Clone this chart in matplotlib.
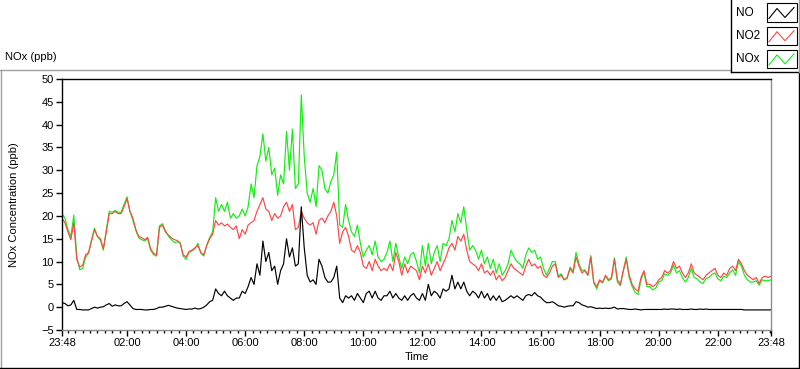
import numpy as np
import matplotlib.pyplot as plt
from matplotlib.lines import Line2D
from matplotlib.patches import Rectangle

plt.rcParams['font.family'] = ['Liberation Sans', 'DejaVu Sans']
plt.rcParams['font.size'] = 8

# readings every 6 minutes from 23:48 (one row = one hour)
no2 = [
    19.5, 18.5, 16.5, 14.8, 18.5, 10.5, 8.8, 9.2, 11.5, 12.0,
    14.5, 17, 15.5, 15, 12.8, 16.5, 20.5, 20.5, 21, 20.5,
    20.5, 22, 23.8, 21, 19.5, 17, 15.5, 15.2, 14.8, 15.3,
    12.8, 11.8, 11.5, 17.5, 18, 16.5, 15.8, 15.2, 14.8, 14.6,
    14, 11.5, 11, 12.2, 12.5, 13, 13.5, 12, 11.5, 13.5,
    15, 16, 19, 18, 18.5, 17.8, 18.2, 17.5, 17, 17.8,
    15, 17, 16, 18, 18.5, 19, 21, 22.5, 24, 21.5,
    21, 19, 20.5, 19.5, 20, 22, 23, 21, 22.5, 17,
    17.5, 21, 19.5, 18.5, 18, 18.5, 16, 19, 19.5, 18.5,
    20, 21, 23, 20, 14, 16.5, 17.5, 15.5, 12.5, 12,
    13.5, 12, 9, 8.5, 10, 8, 10.5, 9, 8, 8.5,
    8, 9.5, 8, 12, 10, 7, 9.5, 7.5, 9, 8.5,
    8, 6, 9, 7.5, 9.5, 7, 8.5, 10, 8, 9.5,
    11, 13, 14, 12.5, 15.5, 14.5, 16, 12.5, 10, 9.5,
    9, 8, 9.5, 7.5, 8, 7, 8, 6, 7, 5.8,
    6.5, 8, 9.5, 8.5, 8, 7.5, 7, 9, 10.5, 9,
    9.5, 8.5, 9, 7, 6.5, 7.5, 9, 9.5, 6.5, 7,
    6, 6.5, 8.5, 7.5, 11, 9, 7.5, 8, 7, 11,
    5.5, 4.5, 6, 5.5, 7, 6, 6.5, 10.5, 6, 5,
    8, 10.5, 7, 5, 4, 3.5, 6.5, 8, 5, 5,
    4.5, 5, 6, 6.5, 8, 7.5, 8, 10, 8.5, 9,
    7.5, 6.5, 7.5, 9.5, 7.5, 7, 6.5, 6, 7, 7.5,
    8, 8.5, 7, 6.5, 7.5, 7, 8.5, 9, 8, 10.5,
    9.5, 8, 7, 6.5, 6, 6.5, 5.2, 6.5, 6.8, 6.5,
    6.8,
]
nox = [
    20.5, 19.5, 17, 15.5, 20.2, 11, 8.2, 8.5, 11, 11.8,
    14.8, 17.3, 15.5, 14.7, 12.5, 17, 21, 20.8, 21.2, 20.8,
    20.8, 22.5, 24.2, 21, 19, 16.8, 15.2, 14.8, 14.5, 15,
    12.5, 11.5, 11.2, 17.8, 18.3, 16.8, 15.6, 14.8, 14.2, 14.3,
    14.2, 11.2, 10.5, 12, 12.3, 12.8, 14, 11.8, 11.2, 13.6,
    15.3, 16.5, 24, 21, 22.5, 21, 23, 19.5, 20.5, 19.5,
    20, 21.5, 20, 22, 27, 24, 31, 33, 38, 32,
    35, 29, 30.5, 24.5, 29, 27, 38.5, 30, 39, 26,
    27, 46.5, 33, 25, 23, 26, 22, 31, 30, 26,
    25, 27.5, 29, 34, 18, 17.5, 22.5, 19, 16.5, 15.5,
    18, 14, 11, 12.5, 13.5, 11.5, 14.5, 11, 10, 10.5,
    12, 14.5, 10, 14, 11, 8.5, 11, 9.5, 11.5, 12,
    10, 7.5, 13.5, 9, 14, 9.5, 12, 13.5, 10, 14,
    13.5, 15, 19, 16.5, 20.5, 18.5, 22, 17, 12.5, 13.5,
    12.5, 10.5, 12.5, 9.5, 11, 8.5, 10.5, 7.5, 9.5, 7,
    8, 9.5, 12.5, 11, 10, 9.5, 8.5, 11.5, 13, 12,
    12.5, 10.5, 11, 8.5, 7, 8.5, 10, 10, 6.8, 7.3,
    6, 6.3, 8.8, 7.8, 12, 9.5, 8, 8.2, 7, 11.3,
    5.3, 4, 5.8, 5.3, 6.8, 5.8, 6.2, 10.8, 5.5, 4.7,
    7.8, 11, 6.5, 4.5, 3.2, 2.8, 6, 7.8, 4.5, 4.5,
    3.8, 4.2, 5.5, 5.8, 7.3, 7, 7.5, 9.2, 7.5, 8,
    6.5, 5.5, 6.5, 8.5, 6.5, 6.2, 5.5, 5.2, 6.3, 6.5,
    7.2, 7.5, 6.2, 5.8, 6.8, 6.5, 7.5, 8.2, 7, 10,
    9, 7, 6, 5.5, 5.5, 5.8, 4.8, 6, 5.8, 5.8,
    6,
]
no = [
    1.0, 0.8, 0.3, 0.5, 1.5, -0.5, -0.5, -0.6, -0.6, -0.6,
    -0.3, 0, -0.2, 0, 0.1, 0.5, 0.8, 0.2, 0.5, 0.3,
    0.3, 0.8, 1.2, 0.5, -0.3, -0.5, -0.5, -0.5, -0.6, -0.6,
    -0.5, -0.5, -0.3, 0, 0, 0.2, 0.4, 0.2, 0, -0.2,
    -0.3, -0.4, -0.5, -0.4, -0.4, -0.2, -0.4, -0.3, 0, 0.5,
    1.2, 1.5, 4, 3, 2.5, 3.5, 2.5, 2, 1.5, 2,
    2, 3.5, 3, 4.5, 6.5, 5, 9.5, 7, 14.5, 10,
    12, 8, 9, 5, 8, 9.5, 15, 11, 13, 9,
    9.5, 22, 13, 7, 5.5, 6, 5, 10.5, 9, 6.5,
    5.5, 5.5, 6.5, 9, 2, 1, 2.5, 2, 2.5, 1.5,
    3, 2, 1, 3, 3.5, 2, 3.5, 2, 1.5, 2.5,
    2.5, 3.5, 2, 3, 2, 1.5, 2.5, 1.5, 2.5, 3,
    2, 1.5, 3, 1.5, 5, 2.5, 3.5, 3, 2, 4,
    3.5, 4, 7, 4, 5.5, 4, 5.5, 3.5, 2.5, 3.5,
    3, 2, 3.5, 2, 3, 1.5, 2.5, 1.5, 2.5, 1.2,
    1.5, 2, 2.5, 2, 2.5, 2, 1.5, 2.5, 2.8, 2.5,
    3.2, 2.5, 2.2, 1.5, 1, 1, 1.2, 0.8, 0.3, 0.2,
    0, 0.2, 0.3, 0.3, 1.2, 1, 0.5, 0.3, 0, 0.1,
    -0.1, -0.3, -0.2, -0.3, -0.2, -0.3, -0.2, 0, -0.4, -0.3,
    -0.3, -0.4, -0.5, -0.5, -0.4, -0.5, -0.6, -0.5, -0.5, -0.5,
    -0.5, -0.5, -0.5, -0.5, -0.4, -0.5, -0.4, -0.4, -0.5, -0.4,
    -0.5, -0.5, -0.5, -0.4, -0.5, -0.5, -0.4, -0.5, -0.4, -0.5,
    -0.5, -0.5, -0.5, -0.5, -0.5, -0.5, -0.5, -0.5, -0.5, -0.5,
    -0.5, -0.6, -0.6, -0.6, -0.6, -0.6, -0.6, -0.6, -0.6, -0.6,
    -0.6,
]
hours = np.arange(len(no)) * 0.1  # hours since 23:48

tick_pos = [0, 2.2, 4.2, 6.2, 8.2, 10.2, 12.2, 14.2, 16.2, 18.2, 20.2, 22.2, 24]
tick_lab = ['23:48', '02:00', '04:00', '06:00', '08:00', '10:00', '12:00',
            '14:00', '16:00', '18:00', '20:00', '22:00', '23:48']

W, H = 800, 369
fig = plt.figure(figsize=(W / 100, H / 100), dpi=100)


def fx(x):
    return x / W


def fy(y):
    return 1 - y / H


ax = fig.add_axes([fx(62), fy(330), fx(771) - fx(62), fy(79) - fy(330)])
ax.plot(hours, nox, color='#11ee11', lw=0.85)
ax.plot(hours, no2, color='#ff4646', lw=0.85)
ax.plot(hours, no, color='black', lw=0.85)

ax.set_xlim(0, 24)
ax.set_ylim(-5, 50)
ax.set_yticks(np.arange(-5, 51, 5))
ax.set_xticks(tick_pos)
ax.set_xticklabels(tick_lab)
minor = [m for m in np.arange(0.2, 24, 0.25) if min(abs(m - t) for t in tick_pos) > 0.01]
ax.set_xticks(minor, minor=True)
ax.tick_params(axis='both', which='major', direction='out', length=4, width=1, pad=2, labelsize=8)
ax.tick_params(axis='x', which='minor', direction='out', length=2.5, width=1)
ax.spines['left'].set_color('black')
ax.spines['top'].set_color('black')
ax.spines['right'].set_color('#8c8c8c')
ax.spines['bottom'].set_color('#8c8c8c')
for s in ax.spines.values():
    s.set_linewidth(1)

ax.set_xlabel('Time', fontsize=8, labelpad=3)
fig.text(fx(14), fy(205), 'NOx Concentration (ppb)', rotation=90, ha='center', va='center', fontsize=8)
fig.text(fx(5), fy(57), 'NOx (ppb)', ha='left', va='center', fontsize=8)

# outer chart frame
fig.add_artist(Line2D([fx(0), fx(730)], [fy(69.5)] * 2, color='#a0a0a0', lw=1))
fig.add_artist(Line2D([fx(1)] * 2, [fy(69.5), fy(368)], color='#a0a0a0', lw=1))
fig.add_artist(Line2D([fx(0), fx(800)], [fy(367.5)] * 2, color='black', lw=1))
fig.add_artist(Line2D([fx(799)] * 2, [fy(72), fy(368)], color='black', lw=1))

# legend panel
fig.add_artist(Line2D([fx(730.5)] * 2, [fy(0), fy(72)], color='black', lw=1))
fig.add_artist(Line2D([fx(730.5), fx(800)], [fy(72)] * 2, color='black', lw=1))
fig.add_artist(Line2D([fx(799)] * 2, [fy(0), fy(72)], color='#a0a0a0', lw=1))
leg_names = ['NO', 'NO2', 'NOx']
leg_colors = ['black', '#ff4646', '#11ee11']
for i, (name, c) in enumerate(zip(leg_names, leg_colors)):
    y0 = 3.5 + i * 23.2
    fig.text(fx(736), fy(y0 + 9), name, ha='left', va='center', fontsize=8.5)
    fig.add_artist(Rectangle((fx(767), fy(y0 + 18)), fx(797) - fx(767), fy(y0) - fy(y0 + 18),
                             facecolor='white', edgecolor='black', lw=0.8))
    fig.add_artist(Line2D([fx(769), fx(777), fx(785), fx(794)],
                          [fy(y0 + 15), fy(y0 + 5), fy(y0 + 14), fy(y0 + 4)], color=c, lw=0.8))

fig.savefig('out.png', dpi=100)
